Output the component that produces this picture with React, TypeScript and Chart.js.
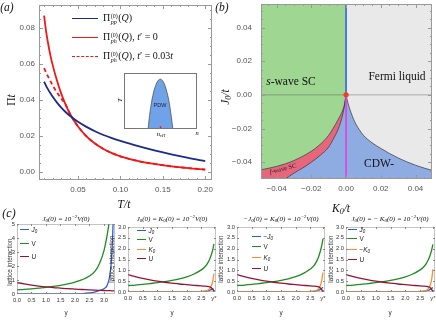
import React, { useEffect, useRef } from 'react';
import { Chart, registerables } from 'chart.js';

Chart.register(...registerables);
Chart.defaults.font.family = "'Liberation Sans', Arial, sans-serif";

// ===== Panel (a) =====
const temperature = [0.01, 0.0125, 0.015, 0.0175, 0.02, 0.025, 0.03, 0.035, 0.04, 0.05, 0.06, 0.07, 0.08, 0.09, 0.1, 0.12, 0.14, 0.16, 0.18, 0.2];
const piPP = [0.05, 0.0476, 0.0455, 0.0436, 0.0418, 0.0386, 0.0358, 0.0334, 0.0313, 0.0278, 0.025, 0.0226, 0.0205, 0.0188, 0.0173, 0.0145, 0.012, 0.0098, 0.0078, 0.006];
const piPH = [0.0866, 0.0775, 0.0705, 0.0645, 0.0595, 0.051, 0.0437, 0.0377, 0.0327, 0.0252, 0.0198, 0.0158, 0.0128, 0.0105, 0.0087, 0.0062, 0.0045, 0.0032, 0.0022, 0.0014];
const piPHtp = [0.0575, 0.055, 0.0526, 0.0503, 0.0481, 0.0442, 0.0408, 0.0377, 0.0327, 0.0252, 0.0198, 0.0158, 0.0128, 0.0105, 0.0087, 0.0062, 0.0045, 0.0032, 0.0022, 0.0014];
const aTicksX = [0.05, 0.1, 0.15, 0.2];
const aTicksY = [0, 0.02, 0.04, 0.06, 0.08];

// inset: PDW dome
const insetN = [0.33, 0.35, 0.38, 0.41, 0.44, 0.47, 0.5, 0.53, 0.56, 0.59, 0.62, 0.65, 0.67];
const insetT = [0, 0.24, 0.5, 0.68, 0.8, 0.87, 0.89, 0.86, 0.78, 0.65, 0.47, 0.2, 0];
const insetVH = 0.5;

// ===== Panel (b) =====
const bK0Neg = [-0.05, -0.045, -0.04, -0.035, -0.03, -0.025, -0.02, -0.015, -0.01, -0.0075, -0.005, -0.0025, -0.001, 0];
const bSwaveEdge = [-0.0447, -0.0437, -0.0425, -0.041, -0.039, -0.0365, -0.0335, -0.0295, -0.024, -0.02, -0.0155, -0.0105, -0.006, 0];
const bFwaveEdge = [-0.059, -0.056, -0.053, -0.05, -0.0465, -0.0435, -0.04, -0.036, -0.031, -0.0265, -0.0215, -0.014, -0.007, 0];
const bK0Pos = [0, 0.001, 0.0025, 0.005, 0.0075, 0.01, 0.015, 0.02, 0.025, 0.03, 0.035, 0.04, 0.045, 0.05];
const bFermiEdge = [0, -0.0045, -0.0095, -0.016, -0.0205, -0.024, -0.0285, -0.0318, -0.0348, -0.0375, -0.0398, -0.0418, -0.0435, -0.045];
const bTicks = [-0.04, -0.02, 0, 0.02, 0.04];
const bRange = [-0.05, 0.05];

// ===== Panel (c) =====
const c1Y = [0, 0.25, 0.5, 0.75, 1.0, 1.25, 1.5, 1.75, 2.0, 2.25, 2.5, 2.7, 2.85, 3.0, 3.1, 3.2, 3.26, 3.3, 3.33, 3.36];
const c1J0 = [0, 0, 0, 0, 0, 0, 0.002, 0.005, 0.01, 0.03, 0.08, 0.16, 0.25, 0.38, 0.58, 1.3, 2.5, 4.2, 6.0, 8.0];
const c1V = [0.3, 0.33, 0.37, 0.42, 0.47, 0.54, 0.62, 0.72, 0.85, 1.02, 1.28, 1.65, 2.2, 3.1, 4.1, 5.4, 6.3, 7.0, 7.6, 8.2];
const c1U = [0.82, 0.72, 0.64, 0.57, 0.51, 0.46, 0.42, 0.38, 0.35, 0.32, 0.29, 0.27, 0.26, 0.25, 0.24, 0.24, 0.23, 0.23, 0.23, 0.23];
const c1TicksX = [0, 0.5, 1, 1.5, 2, 2.5, 3];
const c1TicksY = [0, 1, 2, 3, 4, 5];

const cY = [0, 0.25, 0.5, 0.75, 1.0, 1.25, 1.5, 1.75, 2.0, 2.25, 2.5, 2.6, 2.7, 2.78, 2.84, 2.89, 2.93];
const yStar = 2.93;
const cTicksX = [0, 0.5, 1, 1.5, 2, 2.5, yStar];
const cTicksY = [0, 0.5, 1, 1.5, 2, 2.5, 3];

const c2J0 = [0, 0, 0, 0, 0, 0, 0, 0.002, 0.005, 0.01, 0.02, 0.03, 0.05, 0.08, 0.11, 0.14, 0.12];
const c2V = [0.3, 0.32, 0.35, 0.39, 0.43, 0.48, 0.54, 0.61, 0.7, 0.83, 1.02, 1.13, 1.3, 1.5, 1.72, 1.95, 2.22];
const c2K0 = [0, 0, 0, 0, 0, 0, 0, 0.002, 0.005, 0.01, 0.025, 0.04, 0.07, 0.14, 0.28, 0.5, 0.85];
const c2U = [0.8, 0.71, 0.63, 0.56, 0.5, 0.45, 0.41, 0.37, 0.34, 0.31, 0.28, 0.27, 0.26, 0.24, 0.2, 0.12, 0.02];

const c3J0 = [0, 0, 0, 0, 0, 0, 0, 0.002, 0.005, 0.01, 0.02, 0.03, 0.05, 0.08, 0.12, 0.17, 0.22];
const c3V = [0.3, 0.32, 0.35, 0.39, 0.43, 0.48, 0.54, 0.61, 0.71, 0.85, 1.06, 1.18, 1.38, 1.62, 1.88, 2.15, 2.45];
const c3K0 = [0, 0, 0, 0, 0, 0, 0, 0.002, 0.005, 0.01, 0.025, 0.04, 0.07, 0.14, 0.3, 0.55, 0.9];
const c3U = [0.8, 0.71, 0.63, 0.56, 0.5, 0.45, 0.41, 0.37, 0.34, 0.31, 0.28, 0.27, 0.26, 0.24, 0.19, 0.1, 0.0];

const c4J0 = [0, 0, 0, 0, 0, 0, 0, 0.002, 0.005, 0.01, 0.02, 0.03, 0.05, 0.08, 0.12, 0.17, 0.2];
const c4V = [0.3, 0.32, 0.35, 0.39, 0.43, 0.48, 0.54, 0.61, 0.7, 0.83, 1.02, 1.13, 1.3, 1.5, 1.72, 1.95, 2.2];
const c4K0 = [0, 0, 0, 0, 0, 0, 0, 0.002, 0.005, 0.01, 0.025, 0.04, 0.07, 0.15, 0.32, 0.6, 1.05];
const c4U = [0.8, 0.71, 0.63, 0.56, 0.5, 0.45, 0.41, 0.37, 0.34, 0.31, 0.28, 0.27, 0.26, 0.24, 0.2, 0.11, 0.01];

// ===== colours =====
const NAVY = '#1c2a8c';
const RED = '#f01818';
const GREEN_R = 'rgb(158, 214, 146)';
const PINK_R = 'rgb(232, 102, 124)';
const BLUE_R = 'rgb(142, 172, 226)';
const GRAY_R = 'rgb(233, 233, 233)';
const CB = 'rgb(48, 92, 205)';
const CG = 'rgb(30, 140, 30)';
const CO = 'rgb(255, 140, 45)';
const CR = 'rgb(150, 20, 50)';

const SERIF = "'Liberation Serif', 'DejaVu Serif', serif";
const SANS = "'Liberation Sans', Arial, sans-serif";

const pts = (xs: number[], ys: number[]) => xs.map((x, i) => ({ x, y: ys[i] }));
const fixed = (d: number) => (v: number) => (Math.abs(v) < 1e-12 ? 0 : v).toFixed(d).replace('-', '\u2212');

function framePlugin(o: { color: string; dash?: number[]; minorX: number; minorY: number; major: number; minor: number; ticks?: boolean; bg?: string }) {
  return {
    id: 'frameTicks',
    beforeDraw(chart: any) {
      if (!o.bg) return;
      const { ctx, chartArea: a } = chart;
      ctx.save();
      ctx.fillStyle = o.bg;
      ctx.fillRect(a.left, a.top, a.right - a.left, a.bottom - a.top);
      ctx.restore();
    },
    afterDatasetsDraw(chart: any) {
      const { ctx, chartArea: a } = chart;
      ctx.save();
      ctx.strokeStyle = o.color;
      ctx.lineWidth = 1;
      if (o.ticks !== false) {
        ctx.beginPath();
        const mark = (scale: any, hor: boolean, v: number, len: number) => {
          const p = Math.round(scale.getPixelForValue(v)) + 0.5;
          if (hor) {
            if (p < a.left || p > a.right) return;
            ctx.moveTo(p, a.bottom); ctx.lineTo(p, a.bottom - len);
            ctx.moveTo(p, a.top); ctx.lineTo(p, a.top + len);
          } else {
            if (p < a.top || p > a.bottom) return;
            ctx.moveTo(a.left, p); ctx.lineTo(a.left + len, p);
            ctx.moveTo(a.right, p); ctx.lineTo(a.right - len, p);
          }
        };
        const list: [any, boolean, number][] = [[chart.scales.x, true, o.minorX], [chart.scales.y, false, o.minorY]];
        for (const [scale, hor, per] of list) {
          const vals = scale.ticks.map((t: any) => t.value);
          vals.forEach((v: number) => mark(scale, hor, v, o.major));
          if (per > 1 && vals.length > 1) {
            const step = (vals[1] - vals[0]) / per;
            const start = Math.ceil(scale.min / step - 1e-9) * step;
            for (let v = start; v <= scale.max + 1e-12; v += step) mark(scale, hor, v, o.minor);
          }
        }
        ctx.stroke();
      }
      if (o.dash) ctx.setLineDash(o.dash);
      ctx.strokeRect(a.left + 0.5, a.top + 0.5, a.right - a.left - 1, a.bottom - a.top - 1);
      ctx.restore();
    },
  };
}

function axis(p: { pos: 'bottom' | 'left'; min: number; max: number; ticks: number[]; fmt: (v: number) => string; size: number; pad: number; font: number; color: string; display?: boolean }) {
  return {
    type: 'linear',
    position: p.pos,
    min: p.min,
    max: p.max,
    display: p.display === false ? false : true,
    grid: { display: false, drawTicks: false },
    border: { display: false },
    afterBuildTicks: (s: any) => { s.ticks = p.ticks.map((v) => ({ value: v })); },
    afterFit: (s: any) => {
      if (p.pos === 'bottom') s.height = p.size; else s.width = p.size;
      s.paddingTop = 0; s.paddingBottom = 0; s.paddingLeft = 0; s.paddingRight = 0;
    },
    ticks: { callback: (v: number) => p.fmt(v), padding: p.pad, font: { size: p.font, family: SANS }, color: p.color, maxRotation: 0, minRotation: 0, autoSkip: false },
  };
}

function baseOptions(scales: any, padding: any) {
  return {
    responsive: false,
    maintainAspectRatio: false,
    animation: false,
    events: [],
    layout: { padding },
    plugins: { legend: { display: false }, tooltip: { enabled: false }, filler: { drawTime: 'beforeDatasetsDraw' } },
    elements: { point: { radius: 0 } },
    scales,
  };
}

function ChartBox({ left, top, width, height, make }: { left: number; top: number; width: number; height: number; make: () => any }) {
  const ref = useRef<HTMLCanvasElement>(null);
  useEffect(() => {
    const chart = new Chart(ref.current as HTMLCanvasElement, make());
    return () => chart.destroy();
  }, []);
  return <canvas ref={ref} width={width} height={height} style={{ position: 'absolute', left, top, width, height }} />;
}

const Txt = ({ x, y, rot = 0, style, children }: { x: number; y: number; rot?: number; style?: any; children: any }) => (
  <div style={{ position: 'absolute', left: x, top: y, transform: `translate(-50%, -50%) rotate(${rot}deg)`, whiteSpace: 'nowrap', lineHeight: 1, ...style }}>{children}</div>
);
const TxtL = ({ x, y, style, children }: { x: number; y: number; style?: any; children: any }) => (
  <div style={{ position: 'absolute', left: x, top: y, transform: 'translateY(-50%)', whiteSpace: 'nowrap', lineHeight: 1, ...style }}>{children}</div>
);
const Sample = ({ x, y, w, color, width = 1.6, dashed = false }: { x: number; y: number; w: number; color: string; width?: number; dashed?: boolean }) => (
  <div style={{ position: 'absolute', left: x, top: y - width / 2, width: w, height: 0, borderTop: `${width}px ${dashed ? 'dashed' : 'solid'} ${color}` }} />
);
const SS = ({ sup, sub }: { sup: any; sub: any }) => (
  <span style={{ display: 'inline-flex', flexDirection: 'column', verticalAlign: 'middle', fontSize: '0.6em', lineHeight: 1.05, margin: '0 0.5px' }}>
    <span>{sup}</span>
    <span style={{ fontStyle: 'italic' }}>{sub}</span>
  </span>
);
const sub = (s: any) => <sub style={{ fontSize: '0.7em', verticalAlign: '-0.25em', lineHeight: 0 }}>{s}</sub>;
const sup = (s: any) => <sup style={{ fontSize: '0.7em', verticalAlign: '0.45em', lineHeight: 0 }}>{s}</sup>;

function makeA() {
  return {
    type: 'line',
    data: {
      datasets: [
        { data: pts(temperature, piPP), borderColor: NAVY, borderWidth: 1.8, cubicInterpolationMode: 'monotone' },
        { data: pts(temperature, piPH), borderColor: RED, borderWidth: 1.8, cubicInterpolationMode: 'monotone' },
        { data: pts(temperature, piPHtp), borderColor: RED, borderWidth: 1.8, borderDash: [4, 3], cubicInterpolationMode: 'monotone' },
      ],
    },
    options: baseOptions(
      {
        x: axis({ pos: 'bottom', min: 0.004, max: 0.208, ticks: aTicksX, fmt: fixed(2), size: 35, pad: 5, font: 8, color: '#555' }),
        y: axis({ pos: 'left', min: -0.0044, max: 0.0925, ticks: aTicksY, fmt: fixed(2), size: 39, pad: 4, font: 8, color: '#555' }),
      },
      { left: 0, right: 3, top: 5, bottom: 0 },
    ),
    plugins: [framePlugin({ color: '#999', minorX: 5, minorY: 4, major: 4, minor: 2 })],
  };
}

function makeInset() {
  return {
    type: 'line',
    data: {
      datasets: [
        { data: [{ x: insetVH, y: 0 }, { x: insetVH, y: 0.05 }], borderColor: RED, borderWidth: 1.4 },
        { data: pts(insetN, insetT), borderColor: '#444', borderWidth: 0.7, backgroundColor: 'rgb(112, 162, 232)', fill: 'origin', cubicInterpolationMode: 'monotone' },
      ],
    },
    options: baseOptions(
      {
        x: { type: 'linear', min: 0, max: 1, display: false },
        y: { type: 'linear', min: 0, max: 1, display: false },
      },
      { left: 6, right: 8, top: 5, bottom: 5 },
    ),
    plugins: [framePlugin({ color: '#777', minorX: 0, minorY: 0, major: 0, minor: 0, ticks: false, bg: '#fff' })],
  };
}

function makeB() {
  const line = { borderColor: '#333', borderWidth: 0.7, cubicInterpolationMode: 'monotone' };
  return {
    type: 'line',
    data: {
      datasets: [
        { data: [{ x: 0, y: 0 }], showLine: false, pointRadius: 2.6, pointBackgroundColor: '#f23c1c', pointBorderWidth: 0, order: 0 },
        { data: [{ x: 0, y: 0 }, { x: 0, y: 0.06 }], borderColor: '#2a66ea', borderWidth: 1.6, order: 1 },
        { data: [{ x: 0, y: 0 }, { x: 0, y: -0.06 }], borderColor: '#e23ee6', borderWidth: 1.6, order: 1 },
        { data: [{ x: bRange[0], y: 0 }, { x: bRange[1], y: 0 }], borderColor: 'rgba(90,90,90,0.55)', borderWidth: 0.8, order: 2 },
        { data: pts(bK0Neg, bSwaveEdge), ...line, fill: 'end', backgroundColor: GREEN_R, order: 3 },
        { data: pts(bK0Neg, bFwaveEdge), ...line, fill: 4, backgroundColor: PINK_R, order: 3 },
        { data: pts(bK0Pos, bFermiEdge), ...line, fill: 'end', backgroundColor: GRAY_R, order: 3 },
      ],
    },
    options: baseOptions(
      {
        x: axis({ pos: 'bottom', min: -0.049, max: 0.0495, ticks: bTicks, fmt: fixed(2), size: 36, pad: 5, font: 8, color: '#555' }),
        y: axis({ pos: 'left', min: -0.05, max: 0.054, ticks: bTicks, fmt: fixed(2), size: 46, pad: 9, font: 8, color: '#555' }),
      },
      { left: 0, right: 0, top: 1, bottom: 0 },
    ),
    plugins: [framePlugin({ color: '#999', minorX: 4, minorY: 4, major: 4, minor: 2, bg: BLUE_R })],
  };
}

function makeC(xs: number[], series: { data: number[]; color: string }[], xMax: number, yMax: number, ticksX: number[], ticksY: number[], yFmt: (v: number) => string, pad: any, yW: number) {
  return {
    type: 'line',
    data: {
      datasets: series.map((s) => ({ data: pts(xs, s.data), borderColor: s.color, borderWidth: 1.3, cubicInterpolationMode: 'monotone' })),
    },
    options: baseOptions(
      {
        x: axis({ pos: 'bottom', min: 0, max: xMax, ticks: ticksX, fmt: (v) => (Math.abs(v - yStar) < 1e-9 ? 'y*' : fixed(1)(v)), size: pad.xh, pad: 3, font: 5.8, color: '#333' }),
        y: axis({ pos: 'left', min: 0, max: yMax, ticks: ticksY, fmt: yFmt, size: yW, pad: 2, font: 5.8, color: '#333' }),
      },
      { left: 0, right: pad.right, top: pad.top, bottom: 0 },
    ),
    plugins: [framePlugin({ color: '#888', dash: [1, 1], minorX: 0, minorY: 0, major: 2, minor: 1 })],
  };
}

const cTitle: any = { fontFamily: SERIF, fontSize: 7, fontStyle: 'italic', color: '#111' };
const cLeg: any = { fontFamily: SANS, fontSize: 6.4, color: '#222' };
const cAxisLab: any = { fontFamily: SANS, fontSize: 6.3, color: '#333' };

function Legend({ x, rows }: { x: number; rows: { y: number; color: string; label: any }[] }) {
  return (
    <>
      {rows.map((r, i) => (
        <React.Fragment key={i}>
          <Sample x={x} y={r.y} w={8.5} color={r.color} width={1.4} />
          <TxtL x={x + 11.5} y={r.y} style={cLeg}>{r.label}</TxtL>
        </React.Fragment>
      ))}
    </>
  );
}

export default function App() {
  const math: any = { fontFamily: SERIF, fontSize: 10, color: '#111' };
  const big: any = { fontFamily: SERIF, fontSize: 11.5, color: '#111' };
  return (
    <div style={{ position: 'fixed', left: 0, top: 0, width: 436, height: 335, background: '#fff', overflow: 'hidden' }}>
      {/* Panel (a) */}
      <ChartBox left={0} top={0} width={215} height={215} make={makeA} />
      <ChartBox left={118} top={68} width={87} height={66} make={makeInset} />
      <Txt x={7} y={8} style={{ ...big, fontStyle: 'italic' }}>(a)</Txt>
      <Txt x={12} y={100} rot={-90} style={big}>Π<i>t</i></Txt>
      <Txt x={124} y={205} style={{ ...big, fontStyle: 'italic' }}>T/t</Txt>
      <Sample x={72} y={19} w={26} color={NAVY} width={1.8} />
      <Sample x={72} y={38} w={26} color={RED} width={1.8} />
      <Sample x={72} y={57} w={26} color={RED} width={1.8} dashed />
      <TxtL x={103} y={19} style={math}>Π<SS sup="(0)" sub="pp" />(<i>Q</i>)</TxtL>
      <TxtL x={103} y={38} style={math}>Π<SS sup="(0)" sub="ph" />(<i>Q</i>), <i>t</i>′ = 0</TxtL>
      <TxtL x={103} y={57} style={math}>Π<SS sup="(0)" sub="ph" />(<i>Q</i>), <i>t</i>′ = 0.03<i>t</i></TxtL>
      <Txt x={120} y={100} rot={-90} style={{ fontFamily: SERIF, fontSize: 7, fontStyle: 'italic' }}>T</Txt>
      <Txt x={160} y={106} style={{ fontFamily: SANS, fontSize: 5.5, color: '#223' }}>PDW</Txt>
      <Txt x={161} y={134} style={{ fontFamily: SERIF, fontSize: 6.5, fontStyle: 'italic' }}>n{sub('vH')}</Txt>
      <Txt x={197} y={133} style={{ fontFamily: SERIF, fontSize: 6.5, fontStyle: 'italic' }}>n</Txt>

      {/* Panel (b) */}
      <ChartBox left={215} top={0} width={221} height={215} make={makeB} />
      <Txt x={222} y={8} style={{ ...big, fontStyle: 'italic' }}>(b)</Txt>
      <Txt x={226} y={97} rot={-90} style={{ ...big, fontStyle: 'italic' }}>J{sub('0')}/t</Txt>
      <Txt x={341} y={209} style={{ ...big, fontStyle: 'italic' }}>K{sub('0')}/t</Txt>
      <Txt x={291} y={82} style={big}><i>s</i>-wave SC</Txt>
      <Txt x={397} y={77} style={big}>Fermi liquid</Txt>
      <Txt x={379} y={164} style={big}>CDW-</Txt>
      <Txt x={283} y={169} rot={-14} style={{ fontFamily: SERIF, fontSize: 6.5, color: '#222' }}><i>f</i>-wave SC</Txt>

      {/* Panel (c) */}
      <Txt x={9} y={213} style={{ ...big, fontSize: 12, fontStyle: 'italic' }}>(c)</Txt>
      <ChartBox left={0} top={215} width={120} height={105} make={() => makeC(c1Y, [{ data: c1U, color: CR }, { data: c1V, color: CG }, { data: c1J0, color: CB }], 3.38, 5, c1TicksX, c1TicksY, fixed(0), { right: 5, top: 9, xh: 26 }, 17)} />
      <ChartBox left={110} top={215} width={110} height={105} make={() => makeC(cY, [{ data: c2U, color: CR }, { data: c2K0, color: CO }, { data: c2V, color: CG }, { data: c2J0, color: CB }], 3.0, 3, cTicksX, cTicksY, fixed(1), { right: 4, top: 12, xh: 28 }, 18)} />
      <ChartBox left={219} top={215} width={110} height={105} make={() => makeC(cY, [{ data: c3U, color: CR }, { data: c3K0, color: CO }, { data: c3V, color: CG }, { data: c3J0, color: CB }], 3.0, 3, cTicksX, cTicksY, fixed(1), { right: 4, top: 12, xh: 28 }, 18)} />
      <ChartBox left={328} top={215} width={108} height={105} make={() => makeC(cY, [{ data: c4U, color: CR }, { data: c4K0, color: CO }, { data: c4V, color: CG }, { data: c4J0, color: CB }], 3.0, 3, cTicksX, cTicksY, fixed(1), { right: 1, top: 12, xh: 28 }, 18)} />

      <Txt x={66} y={219} style={cTitle}>J{sub('0')}(0) = 10{sup('−2')}V(0)</Txt>
      <Txt x={172} y={219} style={cTitle}>J{sub('0')}(0) = K{sub('0')}(0) = 10{sup('−2')}V(0)</Txt>
      <Txt x={281} y={219} style={cTitle}>−J{sub('0')}(0) = K{sub('0')}(0) = 10{sup('−2')}V(0)</Txt>
      <Txt x={390} y={219} style={cTitle}>J{sub('0')}(0) = − K{sub('0')}(0) = 10{sup('−2')}V(0)</Txt>

      <Txt x={10} y={262} rot={-90} style={cAxisLab}>lattice interaction</Txt>
      <Txt x={112} y={259} rot={-90} style={cAxisLab}>lattice interaction</Txt>
      <Txt x={221} y={259} rot={-90} style={cAxisLab}>lattice interaction</Txt>
      <Txt x={331} y={259} rot={-90} style={cAxisLab}>lattice interaction</Txt>

      <Txt x={66} y={313} style={cAxisLab}>y</Txt>
      <Txt x={172} y={313} style={cAxisLab}>y</Txt>
      <Txt x={281} y={313} style={cAxisLab}>y</Txt>
      <Txt x={390} y={313} style={cAxisLab}>y</Txt>

      <Legend x={20} rows={[
        { y: 230, color: CB, label: <i>J{sub('0')}</i> },
        { y: 244, color: CG, label: 'V' },
        { y: 257, color: CR, label: 'U' },
      ]} />
      <Legend x={137} rows={[
        { y: 231, color: CB, label: <i>J{sub('0')}</i> },
        { y: 240, color: CG, label: 'V' },
        { y: 249.5, color: CO, label: <i>K{sub('0')}</i> },
        { y: 259, color: CR, label: 'U' },
      ]} />
      <Legend x={252} rows={[
        { y: 236.5, color: CB, label: <>−<i>J{sub('0')}</i></> },
        { y: 246.5, color: CG, label: 'V' },
        { y: 258, color: CO, label: <i>K{sub('0')}</i> },
        { y: 269, color: CR, label: 'U' },
      ]} />
      <Legend x={348} rows={[
        { y: 229.5, color: CB, label: <i>J{sub('0')}</i> },
        { y: 238.5, color: CG, label: 'V' },
        { y: 250, color: CO, label: <>−<i>K{sub('0')}</i></> },
        { y: 260, color: CR, label: 'U' },
      ]} />
    </div>
  );
}
